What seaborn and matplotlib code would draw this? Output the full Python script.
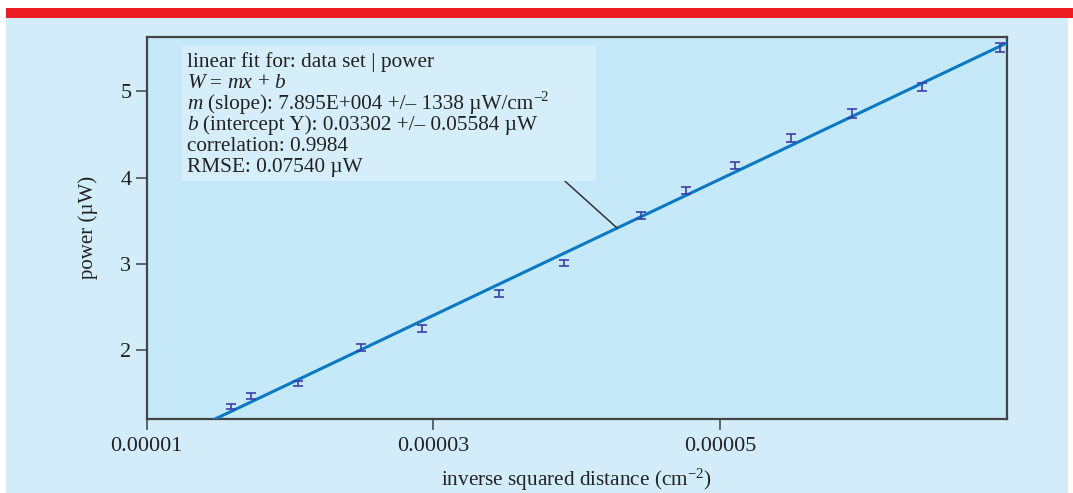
import matplotlib
matplotlib.use("Agg")
import matplotlib.pyplot as plt
import seaborn as sns
import numpy as np
import pandas as pd
from matplotlib.patches import Rectangle

# ---- data ----
inv_sq_dist = [1.588e-5, 1.728e-5, 2.058e-5, 2.498e-5, 2.921e-5, 3.459e-5, 3.912e-5,
               4.447e-5, 4.763e-5, 5.105e-5, 5.494e-5, 5.924e-5, 6.410e-5, 6.953e-5]
power = [1.342, 1.466, 1.614, 2.031, 2.244, 2.658, 3.013,
         3.559, 3.849, 4.139, 4.460, 4.742, 5.050, 5.510]
power_err = [0.030, 0.030, 0.030, 0.040, 0.040, 0.040, 0.035,
             0.040, 0.045, 0.045, 0.045, 0.050, 0.050, 0.050]
fit_slope = 7.895e4
fit_intercept = 0.03302
x_ticks = [0.00001, 0.00003, 0.00005]
x_tick_labels = ["0.00001", "0.00003", "0.00005"]
y_ticks = [2, 3, 4, 5]
x_limits = (1.0e-5, 7.0e-5)
y_limits = (1.203, 5.633)

# info box lines: list of (text, style, gap_pts, raise_pts, size_scale)
SP = 3.8
info_lines = [
    [("linear fit for: data set | power", 'normal', 0, 0, 1.0)],
    [("W", 'italic', 0, 0, 1.0), ("=", 'normal', SP, 0, 1.0), ("mx", 'italic', SP, 0, 1.0),
     ("+", 'normal', SP, 0, 1.0), ("b", 'italic', SP, 0, 1.0)],
    [("m", 'italic', 0, 0, 1.0),
     ("(slope): 7.895E+004 +/\u2013 1338 \u00b5W/cm", 'normal', SP, 0, 1.0),
     ("\u20132", 'normal', 0.3, 5.5, 0.68)],
    [("b", 'italic', 0, 0, 1.0),
     ("(intercept Y): 0.03302 +/\u2013 0.05584 \u00b5W", 'normal', SP, 0, 1.0)],
    [("correlation: 0.9984", 'normal', 0, 0, 1.0)],
    [("RMSE: 0.07540 \u00b5W", 'normal', 0, 0, 1.0)],
]

sns.set_style("ticks")
plt.rcParams['font.family'] = ['Liberation Serif', 'DejaVu Serif']
plt.rcParams['mathtext.fontset'] = 'custom'
plt.rcParams['mathtext.rm'] = 'Liberation Serif'
plt.rcParams['mathtext.it'] = 'Liberation Serif:italic'

W, H = 1073, 493
fig = plt.figure(figsize=(W / 100, H / 100), dpi=100, facecolor='white')

# page decorations
fig.patches.append(Rectangle((6 / W, 1 - 18 / H), 1 - 6 / W, 10 / H,
                             transform=fig.transFigure, facecolor='#ed1c24',
                             edgecolor='none', zorder=-10))
fig.patches.append(Rectangle((6 / W, 0), (1068 - 6) / W, 1 - 18 / H,
                             transform=fig.transFigure, facecolor='#d3ecf9',
                             edgecolor='none', zorder=-10))

ax_l, ax_r, ax_t, ax_b = 146.7, 1006.7, 36.7, 418.7
ax = fig.add_axes([ax_l / W, (H - ax_b) / H, (ax_r - ax_l) / W, (ax_b - ax_t) / H])
ax.set_zorder(5)
ax.set_facecolor('#c6e9f9')

df = pd.DataFrame({"x": inv_sq_dist, "y": power, "err": power_err})

# fit line
xf = np.array(x_limits)
fit_df = pd.DataFrame({"x": xf, "y": fit_slope * xf + fit_intercept})
sns.lineplot(data=fit_df, x="x", y="y", ax=ax, color='#0a78c4', lw=2.2, zorder=3)

# error bars (no markers)
ax.errorbar(df["x"], df["y"], yerr=df["err"], fmt='none', ecolor='#3d3dab',
            elinewidth=1.4, capsize=3.8, capthick=1.4, alpha=0.85, zorder=4)

ax.set_xlim(*x_limits)
ax.set_ylim(*y_limits)
ax.set_xticks(x_ticks)
ax.set_xticklabels(x_tick_labels)
ax.set_yticks(y_ticks)
ax.tick_params(axis='both', direction='out', length=8, width=1.1, colors='#404040',
               labelcolor='#222222', labelsize=16)
ax.tick_params(axis='x', pad=5)
ax.tick_params(axis='y', pad=3)
for s in ax.spines.values():
    s.set_color('#444444')
    s.set_linewidth(1.6)
    s.set_visible(True)

ax.set_xlabel("inverse squared distance (cm$^{\u22122}$)", fontsize=15.3, color='#222222')
ax.set_ylabel("power (\u00b5W)", fontsize=15, color='#222222')
ax.xaxis.label.set_va('center')
ax.yaxis.label.set_va('center')
ax.yaxis.label.set_ha('center')
axw, axh = ax_r - ax_l, ax_b - ax_t
ax.xaxis.set_label_coords(0.5, (ax_b - 480) / axh)
ax.yaxis.set_label_coords((88 - ax_l) / axw, 0.5)

# info box
bx0 = (181.7 - ax_l) / axw
bx1 = (596 - ax_l) / axw
by1 = (ax_b - 46) / axh
by0 = (ax_b - 180.7) / axh
ax.add_patch(Rectangle((bx0, by0), bx1 - bx0, by1 - by0, transform=ax.transAxes,
                       facecolor='#d6eefa', edgecolor='none', zorder=5))
tx = (187.3 - ax_l) / axw
FS = 15.3
for i, segs in enumerate(info_lines):
    ybase = (ax_b - (66.7 + 21.0 * i)) / axh
    prev = None
    for text, style, gap, rise, scale in segs:
        kw = dict(fontsize=FS * scale, color='#222222', style=style, zorder=6,
                  ha='left', va='baseline')
        if prev is None:
            prev = ax.text(tx, ybase, text, transform=ax.transAxes, **kw)
        else:
            prev = ax.annotate(text, xy=(1, ybase), xycoords=(prev, ax.transAxes),
                               xytext=(gap, rise), textcoords='offset points',
                               annotation_clip=False, **kw)

# leader line from box to fit line
x_start = 1e-5 + (564.3 - ax_l) / 143.3 * 1e-5
y_start = 2 + (350 - 180.7) / 86.2
x_end = 1e-5 + (617 - ax_l) / 143.3 * 1e-5
y_end = fit_slope * x_end + fit_intercept
ax.plot([x_start, x_end], [y_start, y_end], color='#333333', lw=1.1, zorder=4)

fig.savefig("out.png", dpi=100, facecolor=fig.get_facecolor())
